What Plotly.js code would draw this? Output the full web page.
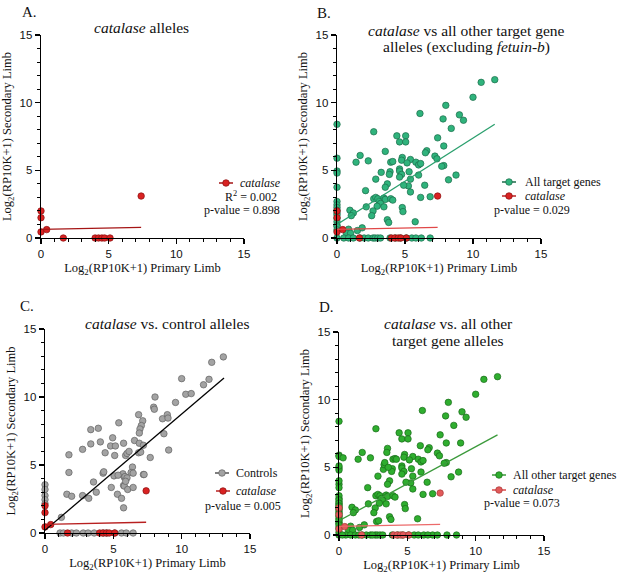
<!DOCTYPE html>
<html><head><meta charset="utf-8">
<script src="https://cdn.plot.ly/plotly-3.0.1.min.js"></script>
<style>html,body{margin:0;padding:0;background:#fff}#chart{width:617px;height:578px}</style>
</head><body><div id="chart"></div>
<script>
// ---------- data ----------
const tickVals = [0, 5, 10, 15];
const tickText = ["0", "5", "10", "15"];

// catalase alleles (same in all panels)
const catalaseX = [0, 0, 0, 0.42, 1.65, 4.0, 4.25, 4.5, 4.7, 5.1, 7.4];
const catalaseY = [2.0, 1.5, 0.45, 0.62, 0, 0, 0, 0, 0, 0, 3.1];
const catalaseFitX = [0, 7.4];
const catalaseFitY = [0.64, 0.79];

// all target genes excluding fetuin-b (panel B)
const targetX = [11.6,10.6,10.0,8.0,6.1,9.0,7.8,9.3,8.4,0,2.7,4.4,5.05,4.6,5.05,7.4,7.85,3.55,6.6,6.5,1.7,7.2,7.35,0,1.4,2.3,3.95,4.1,4.8,4.75,5.4,5.15,5.8,6.0,6.15,7.85,7.7,0,0,3.25,3.9,3.85,4.6,4.6,4.75,4.6,5.3,5.4,6.0,5.25,5.4,4.9,2.85,3.7,6.45,8.2,8.75,0,2.1,6.15,6.85,2.7,2.85,3.0,3.45,3.55,3.95,4.1,3.1,3.2,2.95,2.15,2.65,2.55,3.45,4.8,4.85,0.95,1.2,1.05,3.7,3.8,5.75,0,0,0,0,0,0,0,0,0,0,0,0.85,1.5,1.85,0.7,1.0,3.55,
  0,0.5,0.85,1.2,1.7,2.0,2.3,2.65,2.8,3.0,3.2,3.9,4.3,4.65,5.1,5.5,5.8,6.2,6.85];
const targetY = [11.7,11.5,10.4,9.8,9.2,9.1,8.8,8.7,8.1,8.4,7.85,7.55,7.55,7.1,7.1,7.4,6.8,6.4,6.45,6.3,6.1,6.05,5.85,5.9,5.6,5.7,5.6,5.65,5.95,5.75,5.8,5.55,5.6,5.4,5.5,5.35,5.3,4.95,4.8,4.85,4.9,4.7,5.1,4.95,4.7,4.5,4.9,4.35,4.65,3.85,3.4,3.9,4.35,4.0,3.9,4.3,4.65,3.75,3.5,3.0,3.05,2.9,3.0,2.9,2.95,2.85,2.9,2.8,2.7,2.55,2.35,2.3,2.0,1.65,2.3,2.25,1.95,2.05,1.85,1.65,1.35,1.15,1.2,2.7,2.45,2.25,2.05,1.85,1.7,1.45,1.2,0.95,0.85,0.6,0.65,0.55,0.75,0.35,0.35,3.75,
  0,0,0,0,0,0,0,0,0,0,0,0,0,0,0,0,0,0,0];
const targetFitX = [0, 11.6];
const targetFitY = [1.0, 8.4];

// additional fetuin-b alleles (included in panel D)
const fetuinX = [0,0,0,0,0,0,0,0,0,0,0,0,0,0,0,0.3,3.5,3.3,3.35,4.2,3.6,5.95,2.75,2.9,8.9,7.9,8.6,7.2,6.5,0.25,1.45,2.45];
const fetuinY = [5.8,5.1,4.0,3.5,2.9,2.6,2.35,2.15,1.95,1.6,1.35,1.1,0.75,0.45,0.2,5.7,6.1,5.2,5.35,5.6,5.0,6.6,1.0,1.05,6.8,0,0,0,0,0,0,0];
const otherFitX = [0, 11.6];
const otherFitY = [1.05, 7.4];

// control alleles (panel C)
const controlX = [13.05,12.2,10.0,12.0,11.6,10.3,10.7,8.05,9.55,7.95,8.0,6.85,8.6,8.95,9.0,5.4,7.15,7.05,6.95,6.9,3.35,3.9,8.7,4.95,3.35,4.05,4.8,5.15,5.75,6.55,6.9,7.2,4.4,2.75,1.75,5.1,5.9,6.0,6.15,6.85,7.0,7.7,9.05,6.4,6.3,7.2,7.25,5.7,4.25,4.3,5.05,5.35,5.8,5.85,3.55,1.75,2.75,1.6,1.95,3.2,3.75,4.85,5.75,5.3,5.6,5.8,6.0,6.05,6.45,5.9,6.45,5.75,1.2,0,0,0,0,0,
  1.1,1.35,1.95,2.3,2.8,3.15,3.6,4.25,4.5,5.1,5.6,5.95,6.45];
const controlY = [12.95,12.55,11.35,11.3,10.9,10.2,10.25,10.0,9.6,9.25,9.1,8.7,8.4,8.7,8.45,8.1,8.25,7.9,7.65,7.35,7.6,7.7,7.3,7.0,6.55,6.7,6.4,6.4,6.6,6.8,6.6,6.45,5.9,6.15,5.75,5.7,5.7,5.85,6.0,5.9,5.95,5.55,6.1,4.85,4.45,4.3,4.3,4.35,4.4,4.5,4.2,4.25,4.1,4.15,3.75,4.45,2.75,2.85,2.7,2.55,3.0,3.35,3.5,2.85,2.55,3.45,4.05,3.2,3.35,3.8,4.4,1.85,1.15,3.55,3.2,2.75,2.45,2.15,
  0,0,0,0,0,0,0,0,0,0,0,0,0];
const controlFitX = [0, 13.1];
const controlFitY = [0.2, 11.4];

const pValues = ["0.898", "0.029", "0.005", "0.073"];
const rSquaredA = "0.002";

// ---------- helpers ----------
const W = 617, H = 578;
const px = x => x / W;
const py = y => 1 - y / H;
const SERIF = "Liberation Serif, Times New Roman, serif";
const SANS = "Liberation Sans, Arial, sans-serif";

function xAxis(x0, x1, anchor) {
  return {
    domain: [px(x0), px(x1)], anchor: anchor, range: [0, 15], fixedrange: true,
    showline: true, linecolor: "#000", linewidth: 1.3, showgrid: false, zeroline: false,
    tickmode: "array", tickvals: tickVals, ticktext: tickText,
    ticks: "outside", ticklen: 5, tickwidth: 1.2, tickcolor: "#000",
    minor: {ticks: "outside", ticklen: 3, tickwidth: 1, tickcolor: "#000", dtick: 1, tick0: 0, showgrid: false},
    tickfont: {family: SANS, size: 11.5, color: "#111"},
    automargin: false,
    title: {text: "Log<sub>2</sub>(RP10K+1) Primary Limb", font: {family: SERIF, size: 12.5, color: "#111"}, standoff: 4}
  };
}
function yAxis(y0, y1, anchor) {
  return {
    domain: [py(y1), py(y0)], anchor: anchor, range: [0, 15], fixedrange: true,
    showline: true, linecolor: "#000", linewidth: 1.3, showgrid: false, zeroline: false,
    tickmode: "array", tickvals: tickVals, ticktext: tickText,
    ticks: "outside", ticklen: 5, tickwidth: 1.2, tickcolor: "#000",
    minor: {ticks: "outside", ticklen: 3, tickwidth: 1, tickcolor: "#000", dtick: 1, tick0: 0, showgrid: false},
    tickfont: {family: SANS, size: 11.5, color: "#111"},
    automargin: false,
    title: {text: "Log<sub>2</sub>(RP10K+1) Secondary Limb", font: {family: SERIF, size: 12.5, color: "#111"}, standoff: 5}
  };
}
function pts(x, y, xa, ya, fill, edge) {
  return {type: "scatter", mode: "markers", x: x, y: y, xaxis: xa, yaxis: ya, cliponaxis: false,
    showlegend: false, hoverinfo: "skip",
    marker: {size: 6.5, color: fill, line: {color: edge, width: 0.7}}};
}
function fit(x, y, xa, ya, color) {
  return {type: "scatter", mode: "lines", x: x, y: y, xaxis: xa, yaxis: ya, cliponaxis: false,
    showlegend: false, hoverinfo: "skip", line: {color: color, width: 1.3}};
}

const GREEN_B = "#2fb37c", GREEN_B_EDGE = "#1c6b4a", GREEN_B_LINE = "#2a9f6d";
const GREEN_D = "#2fae2f", GREEN_D_EDGE = "#1a6a1a", GREEN_D_LINE = "#3b9a3b";
const GRAY = "#a3a3a3", GRAY_EDGE = "#626262";
const RED = "#d92222", RED_EDGE = "#8a1010";
const RED_D = "#e25a5a", RED_D_EDGE = "#a83a3a";

const otherX = targetX.concat(fetuinX);
const otherY = targetY.concat(fetuinY);

const data = [
  // A
  pts(catalaseX, catalaseY, "x", "y", RED, RED_EDGE),
  fit(catalaseFitX, catalaseFitY, "x", "y", "#a51515"),
  // B
  pts(targetX, targetY, "x2", "y2", GREEN_B, GREEN_B_EDGE),
  pts(catalaseX, catalaseY, "x2", "y2", RED, RED_EDGE),
  fit(targetFitX, targetFitY, "x2", "y2", GREEN_B_LINE),
  fit(catalaseFitX, catalaseFitY, "x2", "y2", "#e04848"),
  // C
  pts(controlX, controlY, "x3", "y3", GRAY, GRAY_EDGE),
  pts(catalaseX, catalaseY, "x3", "y3", RED, RED_EDGE),
  fit(controlFitX, controlFitY, "x3", "y3", "#000"),
  fit(catalaseFitX, catalaseFitY, "x3", "y3", "#b82020"),
  // D
  pts(otherX, otherY, "x4", "y4", GREEN_D, GREEN_D_EDGE),
  pts(catalaseX, catalaseY, "x4", "y4", RED_D, RED_D_EDGE),
  fit(otherFitX, otherFitY, "x4", "y4", GREEN_D_LINE),
  fit(catalaseFitX, catalaseFitY, "x4", "y4", "#ec6a6a")
];

// ---------- annotations ----------
const ann = [];
function txt(x, y, text, size, anchor, opts) {
  ann.push(Object.assign({xref: "paper", yref: "paper", x: px(x), y: py(y), text: text, showarrow: false,
    xanchor: anchor || "center", yanchor: "middle", font: {family: SERIF, size: size, color: "#111"}}, opts || {}));
}
// panel letters
txt(20, 12, "A.", 15, "left");
txt(315, 13, "B.", 15, "left");
txt(18, 306, "C.", 15, "left");
txt(317, 307, "D.", 15, "left");
// titles
txt(141, 27, "<i>catalase</i> alleles", 15.5);
txt(466, 30, "<i>catalase</i> vs all other target gene", 15.5);
txt(466, 47, "alleles (excluding <i>fetuin-b</i>)", 15.5);
txt(167, 323, "<i>catalase</i> vs. control alleles", 15.5);
txt(448, 323, "<i>catalase</i> vs. all other", 15.5);
txt(448, 340, "target gene alleles", 15.5);
// legends / stats
const LS = 12;
txt(238, 182.5, "<i>catalase</i>", LS, "left");
txt(223, 196, "R<sup>2</sup> = " + rSquaredA, LS, "left");
txt(202, 210, "p-value = " + pValues[0], LS, "left");

txt(523, 182, "All target genes", LS, "left");
txt(523, 196, "<i>catalase</i>", LS, "left");
txt(492, 210, "p-value = " + pValues[1], LS, "left");

txt(234, 473, "Controls", LS, "left");
txt(234, 491, "<i>catalase</i>", LS, "left");
txt(203, 506, "p-value = " + pValues[2], LS, "left");

txt(511, 475, "All other target genes", LS, "left");
txt(511, 490, "<i>catalase</i>", LS, "left");
txt(482, 503, "p-value = " + pValues[3], LS, "left");

// legend symbols (line + circle)
const shapes = [];
function sym(cx, cy, line, fill, edge) {
  shapes.push({type: "line", xref: "paper", yref: "paper", x0: px(cx - 7), x1: px(cx + 7), y0: py(cy), y1: py(cy),
    line: {color: line, width: 1.5}});
  shapes.push({type: "circle", xref: "paper", yref: "paper", x0: px(cx - 3.3), x1: px(cx + 3.3), y0: py(cy + 3.3), y1: py(cy - 3.3),
    fillcolor: fill, line: {color: edge, width: 0.7}});
}
sym(226, 183, "#a51515", RED, RED_EDGE);
sym(509, 182, GREEN_B_EDGE, GREEN_B, GREEN_B_EDGE);
sym(509, 196, "#b82020", RED, RED_EDGE);
sym(222, 473, "#555", GRAY, GRAY_EDGE);
sym(223, 491, "#b82020", RED, RED_EDGE);
sym(499, 475, GREEN_D_LINE, GREEN_D, GREEN_D_EDGE);
sym(499, 490, "#d84848", RED_D, RED_D_EDGE);

const layout = {
  width: W, height: H, margin: {l: 0, r: 0, t: 0, b: 0},
  paper_bgcolor: "#fff", plot_bgcolor: "rgba(0,0,0,0)", showlegend: false,
  xaxis: xAxis(41, 244, "y"), yaxis: yAxis(35, 238, "x"),
  xaxis2: xAxis(337, 541, "y2"), yaxis2: yAxis(35, 238, "x2"),
  xaxis3: xAxis(45, 250, "y3"), yaxis3: yAxis(329, 533, "x3"),
  xaxis4: xAxis(339, 544, "y4"), yaxis4: yAxis(332, 535, "x4"),
  annotations: ann, shapes: shapes
};
Plotly.newPlot("chart", data, layout, {staticPlot: true, displayModeBar: false});
</script>
</body></html>
